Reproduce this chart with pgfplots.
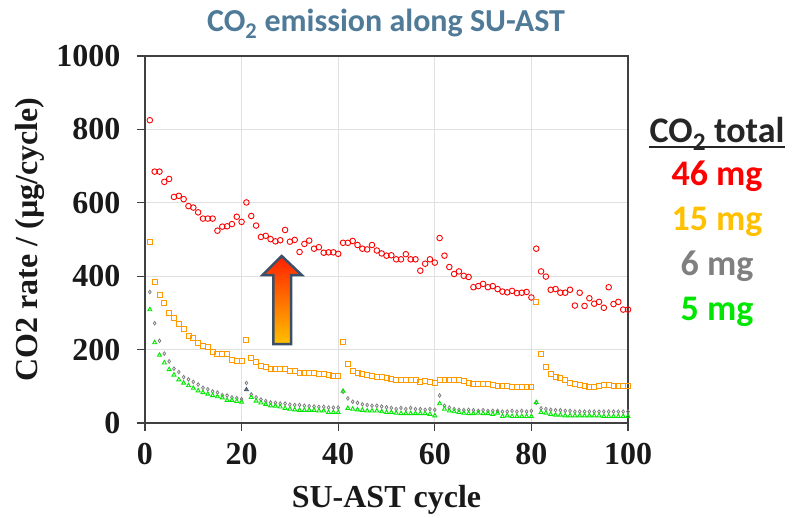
\documentclass[border=0pt]{standalone}
\usepackage{fontspec}
\setmainfont{Liberation Serif}
\newfontfamily\carlito{Carlito}
\usepackage{pgfplots}
\pgfplotsset{compat=1.18}
\definecolor{axgray}{RGB}{64,64,64}
\definecolor{ttlblue}{RGB}{79,122,152}
\definecolor{ored}{RGB}{255,0,0}
\definecolor{oorange}{RGB}{255,153,0}
\definecolor{ogold}{RGB}{255,192,0}
\definecolor{ogray}{RGB}{128,128,128}
\definecolor{ogreen}{RGB}{0,230,0}
\definecolor{slate}{RGB}{58,80,104}
\begin{document}
\begin{tikzpicture}
\useasboundingbox (-145pt,-94pt) rectangle (647pt,423pt);
\begin{axis}[
  at={(0pt,0pt)}, anchor=origin,
  scale only axis, width=483pt, height=367pt,
  xmin=0, xmax=100, ymin=0, ymax=1000,
  xtick={0,20,...,100}, ytick={0,200,...,1000},
  grid=major, major grid style={draw=black!12, line width=1.2pt},
  axis line style={draw=axgray, line width=2pt},
  tick pos=left, tick align=outside, major tick length=8pt,
  tick style={draw=axgray, line width=1.2pt},
  /pgf/number format/assume math mode=true,
  /pgf/number format/1000 sep={},
  ticklabel style={font=\bfseries\fontsize{32}{32}\selectfont, text=black!90},
  yticklabel style={xshift=-13pt},
  xticklabel style={yshift=-9pt},
  xlabel={SU-AST cycle}, ylabel={CO2 rate / (\textmu g/cycle)},
  label style={font=\bfseries\fontsize{32}{32}\selectfont, text=black!90},
  xlabel style={at={(axis description cs:0.5,-0.21)}, anchor=center},
  ylabel style={at={(axis description cs:-0.238,0.5)}, anchor=center},
  clip=false,
]
\addplot[only marks, mark=o, mark size=2.8pt, draw=ored, mark options={line width=0.9pt}] coordinates {
(1,825)(2,685)(3,685)(4,657)(5,665)(6,616)(7,619)(8,610)(9,591)(10,587)
(11,574)(12,557)(13,557)(14,557)(15,524)(16,535)(17,536)(18,542)(19,562)(20,548)
(21,601)(22,564)(23,538)(24,507)(25,510)(26,501)(27,495)(28,498)(29,526)(30,494)
(31,499)(32,466)(33,488)(34,497)(35,475)(36,479)(37,464)(38,465)(39,465)(40,461)
(41,491)(42,491)(43,496)(44,485)(45,475)(46,473)(47,485)(48,470)(49,462)(50,456)
(51,457)(52,446)(53,446)(54,460)(55,446)(56,446)(57,415)(58,434)(59,446)(60,437)
(61,504)(62,456)(63,425)(64,406)(65,413)(66,401)(67,398)(68,370)(69,373)(70,379)
(71,370)(72,373)(73,365)(74,358)(75,356)(76,360)(77,354)(78,355)(79,357)(80,342)
(81,475)(82,413)(83,399)(84,363)(85,365)(86,355)(87,355)(88,363)(89,320)(90,355)
(91,319)(92,340)(93,325)(94,330)(95,314)(96,370)(97,324)(98,330)(99,309)(100,309)
};
\addplot[only marks, mark=square, mark size=2.5pt, draw=oorange, mark options={line width=0.9pt}] coordinates {
(1,492)(2,385)(3,348)(4,327)(5,300)(6,286)(7,269)(8,256)(9,236)(10,231)
(11,218)(12,210)(13,207)(14,194)(15,189)(16,187)(17,187)(18,172)(19,170)(20,170)
(21,225)(22,176)(23,166)(24,156)(25,153)(26,147)(27,146)(28,146)(29,146)(30,141)
(31,141)(32,137)(33,137)(34,137)(35,137)(36,134)(37,134)(38,130)(39,129)(40,128)
(41,220)(42,161)(43,142)(44,137)(45,134)(46,132)(47,128)(48,126)(49,125)(50,122)
(51,119)(52,116)(53,116)(54,117)(55,116)(56,116)(57,112)(58,114)(59,112)(60,109)
(61,116)(62,116)(63,116)(64,116)(65,116)(66,114)(67,108)(68,106)(69,106)(70,106)
(71,106)(72,103)(73,101)(74,100)(75,100)(76,99)(77,98)(78,97)(79,98)(80,98)
(81,330)(82,189)(83,153)(84,133)(85,126)(86,122)(87,117)(88,110)(89,106)(90,105)
(91,101)(92,99)(93,99)(94,100)(95,104)(96,104)(97,100)(98,100)(99,100)(100,100)
};
\addplot[only marks, mark=diamond, mark size=1.8pt, draw=ogray, mark options={line width=0.8pt}] coordinates {
(1,357)(2,272)(3,224)(4,189)(5,168)(6,148)(7,139)(8,125)(9,119)(10,112)
(11,105)(12,96)(13,92)(14,86)(15,83)(16,76)(17,75)(18,70)(19,68)(20,65)
(21,109)(22,78)(23,70)(24,64)(25,60)(26,56)(27,55)(28,53)(29,53)(30,50)
(31,49)(32,49)(33,47)(34,46)(35,45)(36,44)(37,44)(38,42)(39,42)(40,42)
(41,85)(42,67)(43,58)(44,55)(45,51)(46,49)(47,47)(48,47)(49,45)(50,43)
(51,41)(52,38)(53,41)(54,38)(55,41)(56,38)(57,38)(58,36)(59,38)(60,36)
(61,75)(62,47)(63,42)(64,38)(65,36)(66,35)(67,36)(68,35)(69,33)(70,35)
(71,33)(72,33)(73,33)(74,31)(75,31)(76,33)(77,31)(78,33)(79,31)(80,33)
(81,55)(82,40)(83,38)(84,36)(85,35)(86,35)(87,33)(88,33)(89,31)(90,31)
(91,31)(92,31)(93,31)(94,31)(95,31)(96,31)(97,31)(98,31)(99,31)(100,31)
};
\addplot[only marks, mark=triangle, mark size=2.3pt, draw=ogreen, mark options={line width=0.9pt}] coordinates {
(1,309)(2,219)(3,185)(4,164)(5,146)(6,131)(7,118)(8,109)(9,102)(10,95)
(11,88)(12,83)(13,79)(14,75)(15,72)(16,69)(17,62)(18,62)(19,59)(20,57)
(22,70)(23,60)(24,55)(25,51)(26,47)(27,46)(28,44)(29,40)(30,38)
(31,36)(32,35)(33,35)(34,35)(35,35)(36,33)(37,33)(38,29)(39,29)(40,29)
(41,87)(42,40)(43,38)(44,36)(45,35)(46,33)(47,33)(48,33)(49,31)(50,29)
(51,29)(52,27)(53,26)(54,26)(55,26)(56,26)(57,26)(58,26)(59,24)(60,20)
(61,53)(62,38)(63,33)(64,31)(65,29)(66,27)(67,26)(68,26)(69,27)(70,26)
(71,26)(72,24)(73,27)(74,18)(75,20)(76,18)(77,18)(78,18)(79,18)(80,18)
(81,56)(82,29)(83,27)(84,24)(85,22)(86,22)(87,20)(88,20)(89,20)(90,20)
(91,20)(92,20)(93,20)(94,20)(95,18)(96,18)(97,18)(98,18)(99,18)(100,18)
};
\addplot[only marks, mark=triangle*, mark size=2.6pt, draw=slate, fill=slate!80] coordinates {(21,91)};
\end{axis}
% block arrow
\draw[draw=slate, line width=2.5pt, line join=miter, top color={rgb,255:red,255;green,32;blue,0}, bottom color={rgb,255:red,255;green,192;blue,0}]
 (128.3pt,79pt) -- (146pt,79pt) -- (146pt,148pt) -- (156.7pt,148pt) -- (136.7pt,167pt) -- (117.7pt,148pt) -- (128.3pt,148pt) -- cycle;
% title
\node[anchor=base, inner sep=0pt, text=ttlblue, font=\carlito\bfseries\fontsize{32}{32}\selectfont] at (241pt,391pt) {CO\textsubscript{2} emission along SU-AST};
% side legend
\node[anchor=base, inner sep=0pt, text=black!85, font=\carlito\bfseries\fontsize{36}{36}\selectfont] (tot) at (572pt,280pt) {CO\textsubscript{2} total};
\draw[black!85, line width=2pt] ([yshift=-4pt]tot.base west) -- ([yshift=-4pt]tot.base east);
\node[anchor=base, inner sep=0pt, text=ored, font=\carlito\bfseries\fontsize{36}{36}\selectfont] at (572pt,237pt) {46 mg};
\node[anchor=base, inner sep=0pt, text=ogold, font=\carlito\bfseries\fontsize{36}{36}\selectfont] at (572pt,193pt) {15 mg};
\node[anchor=base, inner sep=0pt, text=ogray, font=\carlito\bfseries\fontsize{36}{36}\selectfont] at (572pt,148pt) {6 mg};
\node[anchor=base, inner sep=0pt, text=ogreen, font=\carlito\bfseries\fontsize{36}{36}\selectfont] at (572pt,103pt) {5 mg};
\end{tikzpicture}
\end{document}
